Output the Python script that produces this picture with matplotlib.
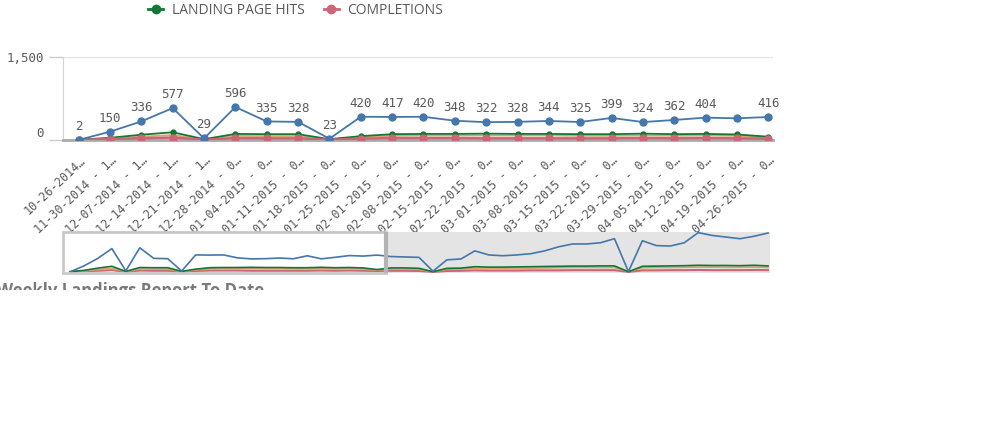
import matplotlib
matplotlib.use("Agg")
import matplotlib.pyplot as plt
from matplotlib.patches import Rectangle
from matplotlib.lines import Line2D

# ---------------- data ----------------
week_labels = ["10-26-2014…", "11-30-2014 - 1…", "12-07-2014 - 1…", "12-14-2014 - 1…",
               "12-21-2014 - 1…", "12-28-2014 - 0…", "01-04-2015 - 0…", "01-11-2015 - 0…",
               "01-18-2015 - 0…", "01-25-2015 - 0…", "02-01-2015 - 0…", "02-08-2015 - 0…",
               "02-15-2015 - 0…", "02-22-2015 - 0…", "03-01-2015 - 0…", "03-08-2015 - 0…",
               "03-15-2015 - 0…", "03-22-2015 - 0…", "03-29-2015 - 0…", "04-05-2015 - 0…",
               "04-12-2015 - 0…", "04-19-2015 - 0…", "04-26-2015 - 0…"]

# full history (shown in the navigator); the main chart shows the first 23 weeks
visits = [2, 150, 336, 577, 29, 596, 335, 328, 23, 420, 417, 420, 348, 322, 328, 344,
          325, 399, 324, 362, 404, 392, 416,
          380, 370, 360, 20, 300, 320, 520, 420, 400, 420, 450, 520, 620, 690, 690, 720,
          820, 10, 770, 650, 640, 720, 970, 900, 860, 820, 880, 960]
landing_page_hits = [5, 40, 95, 140, 15, 110, 105, 105, 15, 70, 105, 110, 110, 115, 110,
                     110, 105, 105, 115, 105, 110, 100, 60,
                     100, 100, 90, 5, 90, 95, 130, 120, 120, 125, 130, 135, 140, 145, 145,
                     150, 150, 5, 140, 145, 150, 155, 165, 160, 160, 155, 165, 150]
other_measure = [3, 25, 60, 90, 10, 75, 70, 70, 10, 50, 75, 80, 80, 80, 80, 80, 75, 75,
                 80, 75, 80, 75, 45,
                 70, 70, 65, 5, 65, 70, 90, 85, 85, 90, 95, 100, 105, 110, 110, 110, 110,
                 5, 105, 110, 110, 115, 120, 120, 115, 115, 120, 110]
completions = [2, 20, 30, 45, 5, 35, 30, 30, 5, 25, 35, 35, 35, 30, 30, 30, 30, 30, 35,
               30, 35, 30, 25,
               30, 30, 25, 2, 25, 30, 40, 35, 35, 35, 40, 40, 40, 45, 45, 45, 45, 2, 40,
               40, 45, 45, 50, 45, 45, 45, 50, 45]
views_shown = 23
label_hidden = [21]
y_ticks = [0, 1500]
y_tick_labels = ["0", "1,500"]

# ---------------- style ----------------
BLUE = "#4477aa"
GREEN = "#117733"
ORANGE = "#e0a070"
PINK = "#cc6677"
TXT = "#595959"
MONO = "DejaVu Sans Mono"
SANS = ["Open Sans", "DejaVu Sans"]

W, H = 990, 446
fig = plt.figure(figsize=(W / 100, H / 100), dpi=100)


def px_axes(x0, y0, x1, y1):
    return fig.add_axes([x0 / W, 1 - y1 / H, (x1 - x0) / W, (y1 - y0) / H])


# ---------------- main chart ----------------
ax = px_axes(63, 57, 773, 140)
n = views_shown
xs = list(range(n))
ax.plot(xs, other_measure[:n], color=ORANGE, lw=1.3, marker="o", ms=3.5, zorder=3)
ax.plot(xs, landing_page_hits[:n], color=GREEN, lw=1.3, marker="o", ms=3.5, zorder=3)
ax.plot(xs, completions[:n], color=PINK, lw=1.8, marker="o", ms=5, zorder=4)
ax.plot(xs, visits[:n], color=BLUE, lw=1.3, marker="o", ms=5, zorder=5)
for i in xs:
    if i in label_hidden:
        continue
    ax.annotate(str(visits[i]), (i, visits[i]), xytext=(0, 5), textcoords="offset points",
                ha="center", va="bottom", fontsize=9, family=MONO, color=TXT)

ax.set_xlim(-0.5, n - 1 + 0.15)
ax.set_ylim(0, 1500)
ax.set_yticks(y_ticks)
ax.set_yticklabels(y_tick_labels, family=MONO, fontsize=9, color=TXT)
ax.get_yticklabels()[0].set_va("bottom")
ax.tick_params(axis="y", length=10, width=1, color="#cccccc", pad=4)
ax.set_xticks(xs)
ax.set_xticklabels(week_labels, rotation=43, ha="right", rotation_mode="anchor",
                   family=MONO, fontsize=8.5, color=TXT)
ax.tick_params(axis="x", length=0, pad=10)
ax.grid(axis="y", color="#e2e2e2", lw=1)
for s in ["top", "right"]:
    ax.spines[s].set_visible(False)
ax.spines["left"].set_color("#d5d5d5")
ax.spines["bottom"].set_color("#aaaaaa")
ax.spines["bottom"].set_linewidth(2)
ax.set_axisbelow(True)
for lbl in ax.get_xticklabels() + ax.get_yticklabels():
    lbl.set_clip_on(False)

# ---------------- navigator ----------------
nav = px_axes(63, 232, 770, 273)
xn = list(range(len(visits)))
nav.plot(xn, completions, color=PINK, lw=1.5)
nav.plot(xn, other_measure, color=ORANGE, lw=1.2)
nav.plot(xn, landing_page_hits, color=GREEN, lw=1.2)
nav.plot(xn, visits, color=BLUE, lw=1.2)
nav.set_xlim(-0.5, len(visits) - 1 + 0.14)
nav.set_ylim(-25, 985)
win_end = n - 1 + 0.6
nav.axvspan(win_end, len(visits), color="#e4e4e4", zorder=0, lw=0)
nav.add_patch(Rectangle((-0.5, -25), win_end + 0.5, 1010, fill=False, edgecolor="#c8c8c8",
                        lw=2, zorder=6, clip_on=False))
nav.axvline(win_end, color="#b4b4b4", lw=3, zorder=7)
nav.set_xticks([])
nav.set_yticks([])
for s in nav.spines.values():
    s.set_visible(False)

# ---------------- texts / legend ----------------
fig.text(65 / W, 1 - (-4) / H, "Measures", family=SANS, fontsize=10, color=TXT,
         ha="left", va="center")
legend_items = [("LANDING PAGE HITS", GREEN), ("COMPLETIONS", PINK)]
handles = [Line2D([], [], color=c, marker="o", ms=6, lw=2) for _, c in legend_items]
fig.legend(handles, [t for t, _ in legend_items], loc="center left",
           bbox_to_anchor=(148 / W, 1 - 10 / H), ncol=2, frameon=False,
           prop={"family": SANS, "size": 10}, labelcolor=TXT, handlelength=1.1,
           handletextpad=0.6, columnspacing=1.4, borderpad=0, borderaxespad=0)
fig.text(-3 / W, 1 - 282 / H, "Weekly Landings Report To Date", family=SANS, fontsize=12,
         fontweight="bold", color="#7a7a7a", ha="left", va="top")
fig.patches.append(Rectangle((0, 0), 1, 1 - 290 / H, transform=fig.transFigure,
                             facecolor="white", edgecolor="none", zorder=10))

fig.savefig("out.png", dpi=100, facecolor="white")
